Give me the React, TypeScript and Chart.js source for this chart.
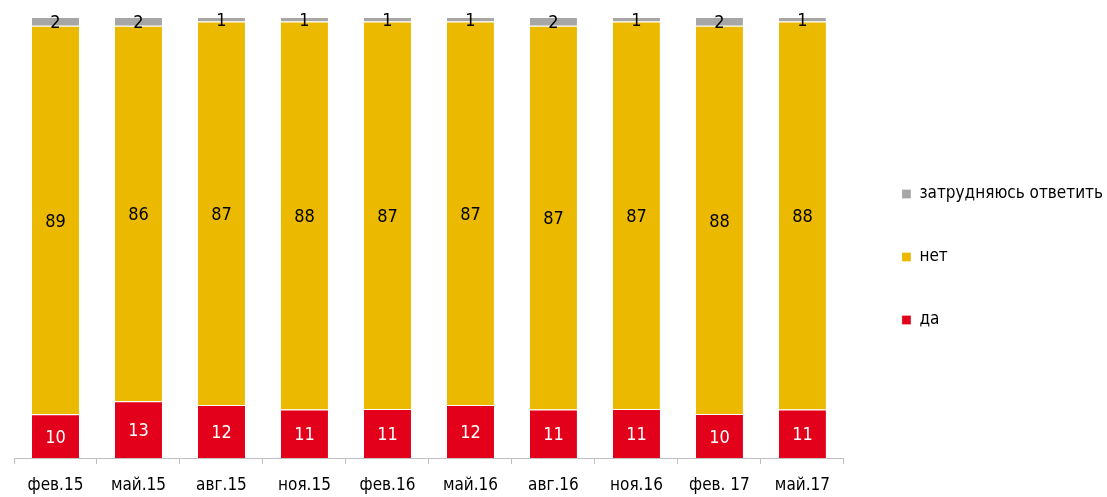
import React, { useEffect, useRef } from "react";
import { Chart, registerables } from "chart.js";

Chart.register(...registerables);

const categories = ["фев.15", "май.15", "авг.15", "ноя.15", "фев.16", "май.16", "авг.16", "ноя.16", "фев. 17", "май.17"];
const yesValues = [10, 13, 12, 11, 11, 12, 11, 11, 10, 11];
const noValues = [89, 86, 87, 88, 87, 87, 87, 87, 88, 88];
const hardValues = [2, 2, 1, 1, 1, 1, 2, 1, 2, 1];
const seriesNames = ["да", "нет", "затрудняюсь ответить"];
const seriesColors = ["#E2001A", "#EBBA00", "#A6A6A6"];
const labelColors = ["#FFFFFF", "#000000", "#000000"];

const FONT = "'Liberation Sans Narrow', 'DejaVu Sans Condensed', sans-serif";

const raw = [yesValues, noValues, hardValues];
const totals = categories.map((_, i) => raw.reduce((s, arr) => s + arr[i], 0));

const labelPlugin = {
  id: "segLabels",
  afterDatasetsDraw(chart: any) {
    const ctx = chart.ctx;
    ctx.save();
    ctx.font = `18px ${FONT}`;
    ctx.textAlign = "center";
    ctx.textBaseline = "middle";
    chart.data.datasets.forEach((ds: any, di: number) => {
      const meta = chart.getDatasetMeta(di);
      meta.data.forEach((bar: any, i: number) => {
        const { x, y, base } = bar.getProps(["x", "y", "base"], true);
        ctx.fillStyle = labelColors[di];
        ctx.fillText(String(ds.raw[i]), x, (y + base) / 2 + 2);
      });
    });
    ctx.restore();
  },
};

export default function App() {
  const ref = useRef<HTMLCanvasElement>(null);
  useEffect(() => {
    if (!ref.current) return;
    const chart = new Chart(ref.current, {
      type: "bar",
      data: {
        labels: categories,
        datasets: raw.map((arr, di) => ({
          label: seriesNames[di],
          data: arr.map((v, i) => (v / totals[i]) * 100),
          raw: arr,
          backgroundColor: seriesColors[di],
          borderColor: "#FFFFFF",
          borderWidth: { top: 1, left: 0, right: 0, bottom: 0 },
          borderSkipped: false,
          categoryPercentage: 1,
          barPercentage: 0.566,
        })) as any,
      },
      options: {
        animation: false,
        responsive: true,
        maintainAspectRatio: false,
        layout: { padding: { left: 14, right: -6, top: 17, bottom: 0 } },
        scales: {
          x: {
            stacked: true,
            grid: {
              display: true,
              drawOnChartArea: false,
              drawTicks: true,
              tickLength: 6,
              color: "#BFBFBF",
              offset: true,
            },
            border: { display: true, color: "#BFBFBF", width: 1 },
            ticks: { color: "#000000", font: { family: FONT, size: 17 }, padding: 11, maxRotation: 0, autoSkip: false },
            afterFit: (s: any) => {
              s.height = 39;
            },
          },
          y: {
            stacked: true,
            position: "right",
            min: 0,
            max: 100,
            grid: { display: false },
            border: { display: false },
            ticks: { display: false },
            afterFit: (s: any) => {
              s.width = 12;
            },
          },
        },
        plugins: {
          legend: {
            position: "right",
            reverse: true,
            labels: {
              boxWidth: 9,
              boxHeight: 9,
              padding: 46,
              color: "#000000",
              font: { family: FONT, size: 17 },
            },
          },
          tooltip: { enabled: false },
        },
      },
      plugins: [labelPlugin],
    });
    return () => chart.destroy();
  }, []);
  return (
    <div style={{ position: "fixed", left: 0, top: 0, width: 1107, height: 497, background: "#fff" }}>
      <canvas ref={ref} />
    </div>
  );
}
